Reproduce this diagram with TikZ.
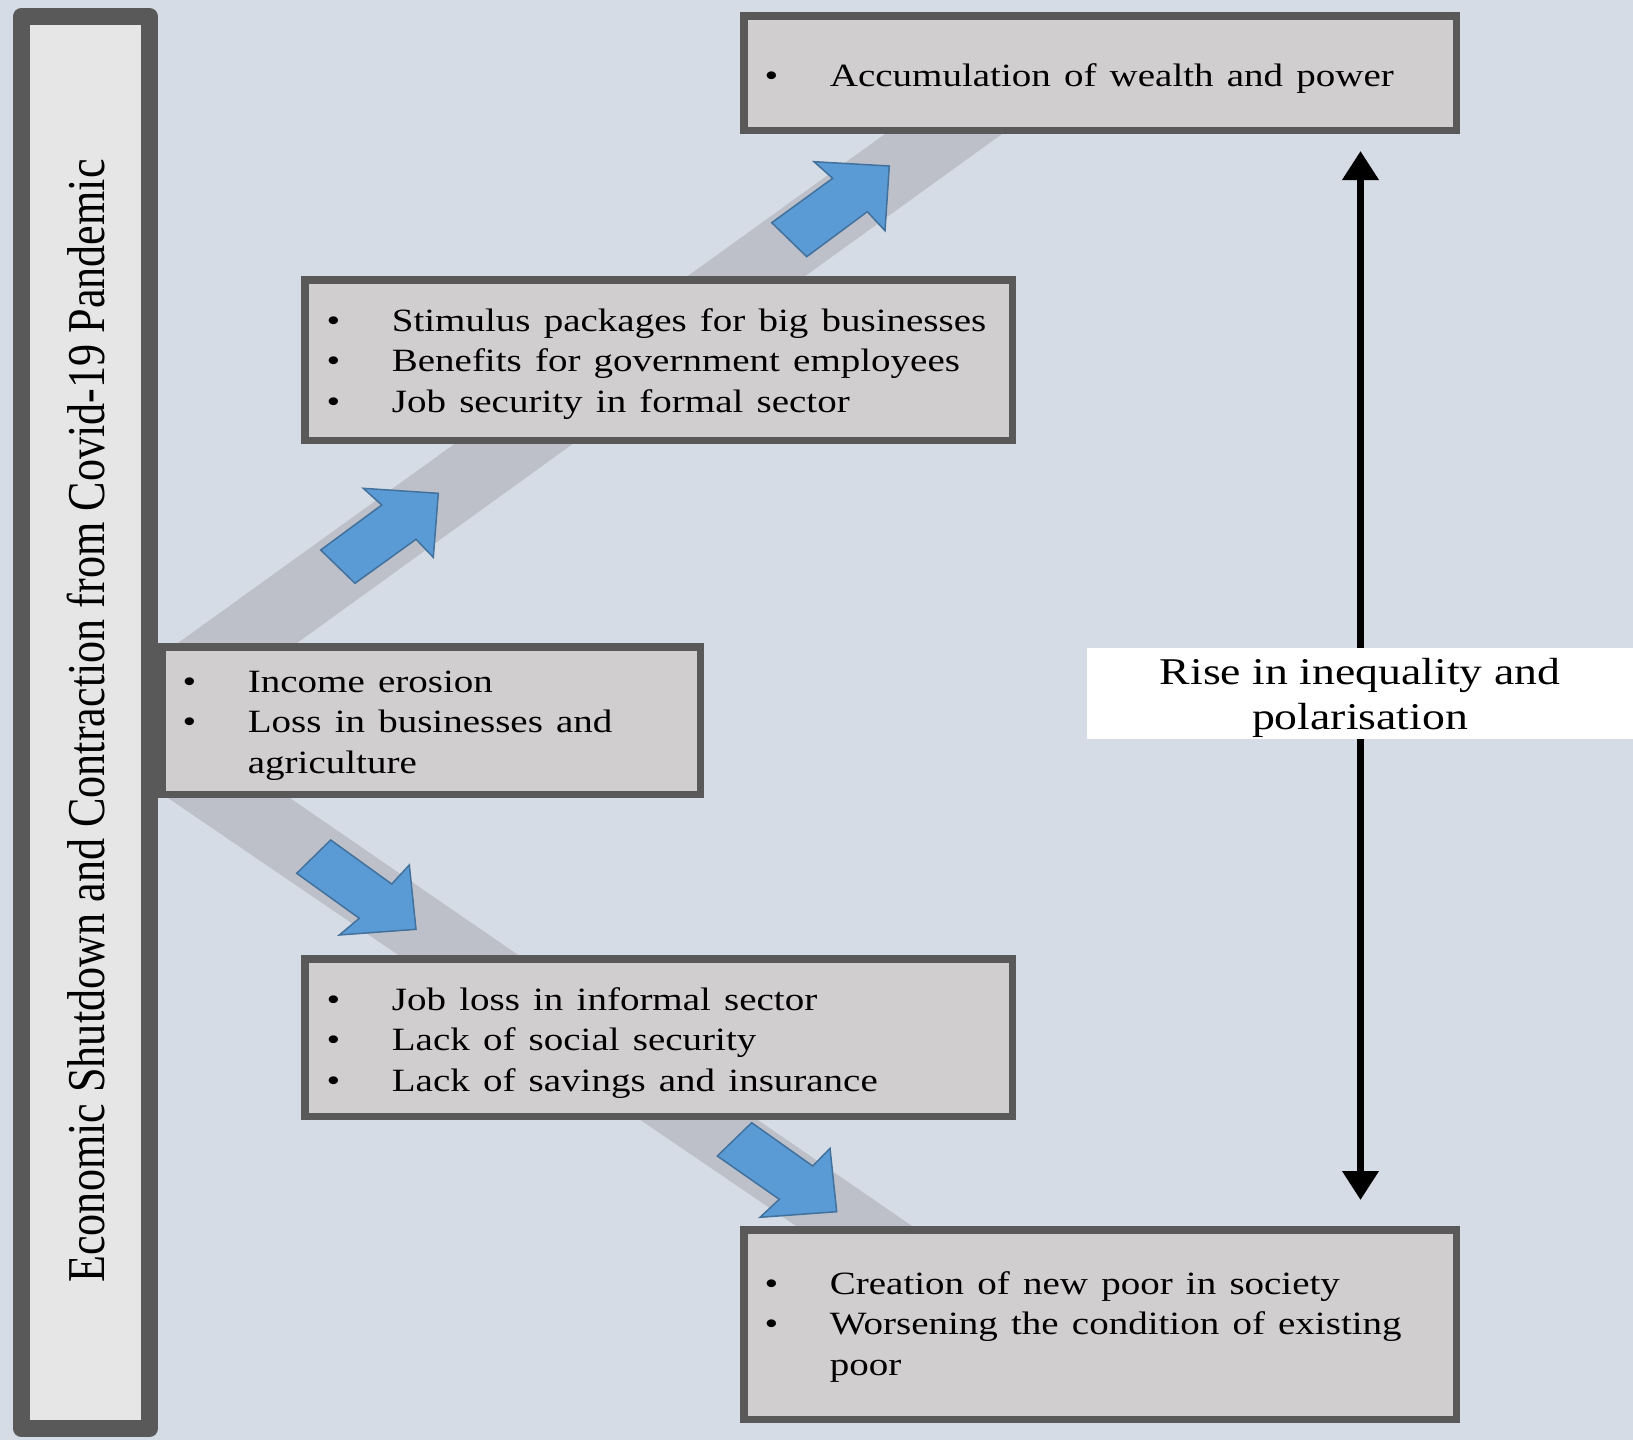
\documentclass[tikz,border=0pt]{standalone}
\usepackage{fontspec}
\setmainfont{Liberation Serif}
\newfontfamily\boxfont[FakeStretch=1.2]{Liberation Serif}
\newfontfamily\barfont[FakeStretch=0.83]{Liberation Serif}
\newfontfamily\labfont[FakeStretch=1.21]{Liberation Serif}
\usetikzlibrary{arrows.meta}
\definecolor{bgcol}{HTML}{D6DCE5}
\definecolor{boxfill}{HTML}{D0CECE}
\definecolor{barfill}{HTML}{E7E6E6}
\definecolor{bordercol}{HTML}{595959}
\definecolor{bandcol}{HTML}{BDC0C9}
\definecolor{arrowfill}{HTML}{5B9BD5}
\definecolor{arrowedge}{HTML}{41719C}
\newcommand{\bitem}{\makebox[0pt]{\textbullet}\hspace{29.25pt}}
\newcommand{\bcont}{\hspace{29.25pt}}
\newcommand{\boxfontsel}{\boxfont\fontsize{16.25}{20.35}\selectfont\spaceskip 6.6pt\relax}
\begin{document}
\begin{tikzpicture}[x=0.5pt,y=-0.5pt,
  infobox/.style={draw=bordercol, fill=boxfill, line width=3.75pt, inner sep=0pt},
  boxtext/.style={anchor=base west, inner sep=0pt, font=\boxfontsel},
  bluearrow/.style={fill=arrowfill, draw=arrowedge, line width=0.75pt, line join=miter},
  bandshape/.style={fill=bandcol}]
\useasboundingbox (0,0) rectangle (1633,1440);
\fill[bgcol] (0,0) rectangle (1633,1440);

% grey bands
\fill[bandshape] (178,643) -- (297,643) -- (1002,134) -- (885,134) -- cycle;
\fill[bandshape] (168,798) -- (290,798) -- (912,1226) -- (796,1226) -- cycle;

% boxes
\node[infobox, minimum width=356.25pt, minimum height=57.25pt] (top) at (1100,73) {};
\node[infobox, minimum width=353.75pt, minimum height=80.25pt] (up) at (658.5,360) {};
\node[infobox, minimum width=269.25pt, minimum height=73.75pt] (mid) at (431,720.5) {};
\node[infobox, minimum width=353.75pt, minimum height=78.75pt] (down) at (658.5,1037.5) {};
\node[infobox, minimum width=356.25pt, minimum height=94.75pt] (bottom) at (1100,1324.5) {};

% box texts
\node[boxtext] (toptxt) at (771,86) {\begin{tabular}[t]{@{}l@{}}\bitem Accumulation of wealth and power\end{tabular}};
\node[boxtext] (uptxt) at (333,331) {\begin{tabular}[t]{@{}l@{}}\bitem Stimulus packages for big businesses\\\bitem Benefits for government employees\\\bitem Job security in formal sector\end{tabular}};
\node[boxtext] (midtxt) at (189,692) {\begin{tabular}[t]{@{}l@{}}\bitem Income erosion\\\bitem Loss in businesses and\\\bcont agriculture\end{tabular}};
\node[boxtext] (downtxt) at (333,1010) {\begin{tabular}[t]{@{}l@{}}\bitem Job loss in informal sector\\\bitem Lack of social security\\\bitem Lack of savings and insurance\end{tabular}};
\node[boxtext] (bottomtxt) at (771,1294) {\begin{tabular}[t]{@{}l@{}}\bitem Creation of new poor in society\\\bitem Worsening the condition of existing\\\bcont poor\end{tabular}};

% left bar
\draw[draw=bordercol, fill=barfill, line width=8.5pt, line join=round] (21.3,16.5) rectangle (149.5,1428.5);
\node[rotate=90, anchor=base, inner sep=0pt, font=\barfont\fontsize{26.6}{30}\selectfont] (bar) at (104.6,721) {Economic Shutdown and Contraction from Covid-19 Pandemic};

% blue arrows
\draw[bluearrow] (438.3,493.3) -- (433.3,557.3) -- (416,539.3) -- (355,583.3) -- (320.7,550) -- (381.7,505) -- (363.3,488.3) -- cycle;
\draw[bluearrow] (889.3,166) -- (885,230.7) -- (867.3,211.7) -- (806.7,256.7) -- (771.7,222.7) -- (832.7,178.3) -- (814,161.7) -- cycle;
\draw[bluearrow] (416,929.3) -- (339.3,935) -- (359.3,918.3) -- (296.7,873.3) -- (330.7,840) -- (391.7,884) -- (409.3,865) -- cycle;
\draw[bluearrow] (836.7,1211.7) -- (760,1217.3) -- (779.3,1199.3) -- (717.3,1156) -- (751.7,1122.7) -- (812.7,1166) -- (830,1148.3) -- cycle;

% double arrow and label
\coordinate (atop) at (1360.5,151);
\coordinate (abot) at (1360.5,1200);
\draw[line width=3.5pt, {Triangle[length=14.5pt,width=17.5pt]}-{Triangle[length=14.5pt,width=17.5pt]}] (atop) -- (abot);
\node[fill=white, inner sep=0pt, minimum width=273pt, minimum height=45.5pt] (lab) at (1360,693.5) {};
\node[anchor=base, inner sep=0pt, font=\labfont\fontsize{18.9}{22.5}\selectfont] (labtxt) at (1360,684) {\begin{tabular}[t]{@{}c@{}}Rise in inequality and\\polarisation\end{tabular}};
\end{tikzpicture}
\end{document}
